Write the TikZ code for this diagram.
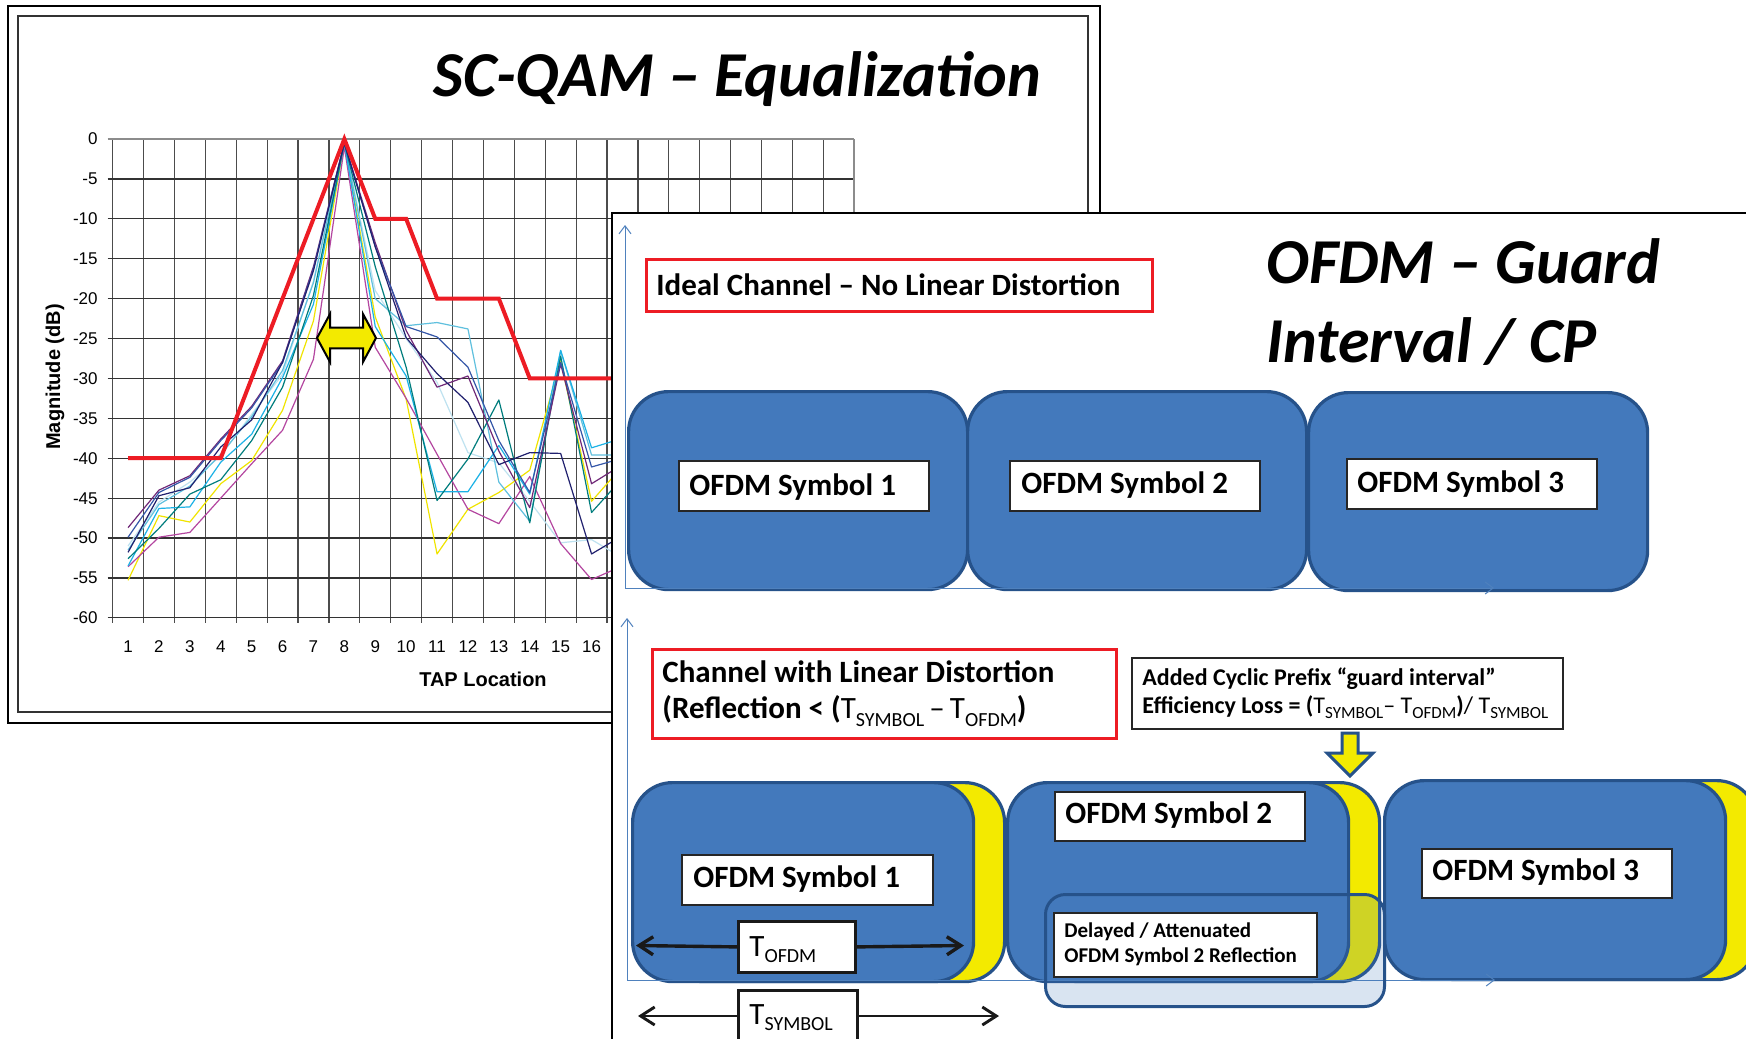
\documentclass[tikz,border=0pt]{standalone}
\usepackage{fontspec}
\setmainfont{Carlito}
\newfontfamily\chartfont{Liberation Sans}
\usetikzlibrary{arrows.meta}

\definecolor{boxblue}{RGB}{67,121,188}
\definecolor{boxedge}{RGB}{38,82,138}
\definecolor{cpyellow}{RGB}{243,234,0}
\definecolor{redline}{RGB}{237,28,36}
\definecolor{axisblue}{RGB}{79,129,189}
\definecolor{navyc}{RGB}{32,32,110}
\definecolor{bluec}{RGB}{52,86,168}
\definecolor{purplec}{RGB}{112,40,120}
\definecolor{tealc}{RGB}{0,125,125}
\definecolor{cyanc}{RGB}{28,178,230}
\definecolor{lcyanc}{RGB}{95,192,222}
\definecolor{vlightc}{RGB}{190,226,240}
\definecolor{yellc}{RGB}{240,228,0}
\definecolor{magc}{RGB}{180,70,160}

\newcommand{\Tsub}[3]{{\mdseries T}\raisebox{-#3}{\fontsize{#2}{#2}\selectfont\mdseries #1}}

\begin{document}
\begin{tikzpicture}[x=0.5pt, y=-0.5pt,
  symbox/.style={draw=boxedge, fill=boxblue, line width=1.6pt, rounded corners=20pt, anchor=north west, inner sep=0pt, minimum width=169.5pt, minimum height=99pt},
  bsymbox/.style={symbox, minimum width=170.5pt, minimum height=99.5pt},
  cpbox/.style={bsymbox, fill=cpyellow},
  lblbox/.style={draw=black!85, fill=white, line width=0.9pt, anchor=north west, inner sep=0pt, minimum width=125pt, minimum height=25pt},
  redbox/.style={draw=redline, fill=white, line width=1.6pt, anchor=north west, inner sep=0pt},
  plainbox/.style={draw=black!85, fill=white, line width=0.9pt, anchor=north west, inner sep=0pt},
  tbox/.style={draw=black!90, fill=white, line width=1.4pt, anchor=north west, inner sep=0pt},
  txt/.style={anchor=base west, inner sep=0pt},
  bigtitle/.style={txt, font=\fontsize{32}{36}\selectfont\bfseries\itshape},
  symtxt/.style={txt, font=\fontsize{15.5}{18}\selectfont\bfseries},
  gridv/.style={draw=black!70, line width=0.6pt},
  gridh/.style={draw=black!80, line width=0.6pt},
  ylab/.style={anchor=base east, inner sep=0pt, font=\chartfont\fontsize{8.5}{10}\selectfont},
  xlab/.style={anchor=base, inner sep=0pt, font=\chartfont\fontsize{8.5}{10}\selectfont},
  series/.style={line width=0.6pt, line join=round},
  axisl/.style={draw=axisblue, line width=0.5pt, -{Straight Barb[length=4pt,width=6pt]}},
  tarrow/.style={draw=black!90, line width=1.7pt, -{Straight Barb[length=7pt,width=9pt]}}
]
\useasboundingbox (0,0) rectangle (1746,1039);
\fill[white] (0,0) rectangle (1746,1039);
\clip (0,0) rectangle (1746,1039);

% ---------------- chart panel ----------------
\draw[line width=1.25pt] (8,6) rectangle (1100,723);
\draw[line width=0.75pt, black!80] (18,16) rectangle (1088,712);
\node[bigtitle] (t1) at (433,96) {SC-QAM – Equalization};

\begin{scope}[shift={(97.15,139)}, x=15.45pt, y=3.99pt]
  \foreach \i in {0.5,1.5,...,24.5} \draw[gridv] (\i,0) -- (\i,-60.65);
  \foreach \d in {-5,-10,...,-60} \draw[gridh] (0.34,\d) -- (24.5,\d);
  \draw[draw=black!45, line width=1pt] (0.34,0) -- (24.5,0);
  \draw[draw=black!45, line width=0.8pt] (24.5,0) -- (24.5,-60);
  \foreach \d [count=\k] in {0,-5,...,-60} \node[ylab] (yl\k) at (0.0275,\d-0.75) {\d};
  \foreach \i in {1,...,16} \node[xlab] (xl\i) at (\i,-64.29) {\i};
  % data
  \draw[series, vlightc] plot coordinates {(1,-51) (2,-45.5) (3,-43) (4,-39.7) (5,-34.5) (6,-29.5) (7,-17.8) (8,-0.5) (9,-19) (10,-25) (11,-30.5) (12,-39.3) (13,-40.6) (14,-45.4) (15,-50.6) (16,-50.2) (17,-52.5)};
  \draw[series, yellc] plot coordinates {(1,-55.3) (2,-47.2) (3,-48) (4,-43.2) (5,-40.3) (6,-34) (7,-22.8) (8,-0.5) (9,-22.3) (10,-32.6) (11,-52) (12,-46.4) (13,-44.3) (14,-41.5) (15,-27.8) (16,-45.4) (17,-41)};
  \draw[series, magc] plot coordinates {(1,-53.6) (2,-49.9) (3,-49.3) (4,-45) (5,-40.7) (6,-36.5) (7,-27.6) (8,-1) (9,-26.1) (10,-32.5) (11,-39.5) (12,-46.4) (13,-48.2) (14,-42.3) (15,-50.7) (16,-55.2) (17,-53.5)};
  \draw[series, lcyanc] plot coordinates {(1,-51.5) (2,-45.8) (3,-43.5) (4,-39.5) (5,-34.8) (6,-29) (7,-18) (8,-0.5) (9,-20) (10,-23.4) (11,-23) (12,-23.8) (13,-43) (14,-47.9) (15,-26.5) (16,-39.6) (17,-39.6)};
  \draw[series, cyanc] plot coordinates {(1,-53.5) (2,-46.3) (3,-46.1) (4,-40.5) (5,-37) (6,-29.9) (7,-20.7) (8,-0.5) (9,-23.5) (10,-29.7) (11,-44.2) (12,-44.2) (13,-38.4) (14,-44.5) (15,-26.5) (16,-38.7) (17,-37.5)};
  \draw[series, tealc] plot coordinates {(1,-52.6) (2,-48.8) (3,-44.5) (4,-42.7) (5,-37.8) (6,-31.1) (7,-19.6) (8,-0.5) (9,-16) (10,-28.6) (11,-45.3) (12,-40.1) (13,-32.7) (14,-48.1) (15,-27.2) (16,-46.8) (17,-42.5)};
  \draw[series, purplec] plot coordinates {(1,-48.7) (2,-44) (3,-42.2) (4,-37.6) (5,-33.5) (6,-27.8) (7,-16) (8,-0.5) (9,-13) (10,-24) (11,-31.1) (12,-29.7) (13,-39.1) (14,-46.2) (15,-28.2) (16,-43.2) (17,-40.8)};
  \draw[series, bluec] plot coordinates {(1,-49.9) (2,-44.3) (3,-42.4) (4,-37.8) (5,-33.7) (6,-28) (7,-16.3) (8,-0.5) (9,-13.5) (10,-23.5) (11,-24.8) (12,-28.6) (13,-37.8) (14,-44.3) (15,-28) (16,-41.1) (17,-40)};
  \draw[series, navyc] plot coordinates {(1,-51.8) (2,-44.7) (3,-43.7) (4,-38.6) (5,-35.2) (6,-28) (7,-16.5) (8,-0.5) (9,-13.5) (10,-24.9) (11,-29.4) (12,-33) (13,-40.8) (14,-39.3) (15,-39.4) (16,-52) (17,-49.7)};
  % mask
  \draw[redline, line width=2pt, line join=miter] plot coordinates {(1,-40) (4,-40) (8,0) (9,-10) (10,-10) (11,-20) (13,-20) (14,-30) (24.5,-30)};
\end{scope}
\node[rotate=90, anchor=base, inner sep=0pt, font=\chartfont\fontsize{10}{12}\selectfont\bfseries] (ylabel) at (60,377) {Magnitude (dB)};
\node[anchor=base, inner sep=0pt, font=\chartfont\fontsize{10}{12}\selectfont\bfseries] (xlabel) at (483,686) {TAP Location};
\draw[line width=1pt, fill=cpyellow, line join=miter] (317,338) -- (330,314) -- (330,327.7) -- (363,327.7) -- (363,314) -- (376,338) -- (363,362) -- (363,348.3) -- (330,348.3) -- (330,362) -- cycle;

% ---------------- OFDM panel ----------------
\node[draw=black, fill=white, line width=1.1pt, anchor=north west, inner sep=0pt, minimum width=580pt, minimum height=420pt] (panel) at (611,212) {};
\node[bigtitle] (t2) at (1266,283) {OFDM – Guard};
\node[bigtitle] (t3) at (1266,362) {Interval / CP};

\node[redbox, minimum width=253pt, minimum height=26pt] (ideal) at (645,258) {};
\node[symtxt] (idealt) at (656,295) {Ideal Channel – No Linear Distortion};

\node[symbox] (s1) at (627,390) {};
\node[symbox] (s2) at (966,390) {};
\node[symbox] (s3) at (1307,391) {};
\node[lblbox] (l1) at (678,460) {};
\node[symtxt] (l1t) at (689,495) {OFDM Symbol 1};
\node[lblbox] (l2) at (1009,460) {};
\node[symtxt] (l2t) at (1021,493) {OFDM Symbol 2};
\node[lblbox] (l3) at (1346,458) {};
\node[symtxt] (l3t) at (1357,492) {OFDM Symbol 3};

\coordinate (a1o) at (625,588);
\coordinate (a1t) at (625,225);
\coordinate (a1r) at (1494,588);
\draw[axisl] (a1o) -- (a1t);
\draw[axisl] (a1o) -- (a1r);

% lower section
\node[redbox, minimum width=232pt, minimum height=44.5pt] (chan) at (651,648) {};
\node[symtxt] (chant1) at (662,682) {Channel with Linear Distortion};
\node[symtxt] (chant2) at (662,718) {(Reflection < (\Tsub{SYMBOL}{10pt}{4pt}{\mdseries\,–\,}\Tsub{OFDM}{10pt}{4pt})};

\node[plainbox, minimum width=215.5pt, minimum height=35.5pt] (cyc) at (1131,657) {};
\node[txt, font=\fontsize{12}{14}\selectfont\bfseries] (cyct1) at (1142,685) {Added Cyclic Prefix “guard interval”};
\node[txt, font=\fontsize{12}{14}\selectfont\bfseries] (cyct2) at (1142,713) {Efficiency Loss = (\Tsub{SYMBOL}{8.5pt}{2.5pt}{\mdseries– }\Tsub{OFDM}{8.5pt}{2.5pt}){\mdseries/ }\Tsub{SYMBOL}{8.5pt}{2.5pt}};

\node[cpbox] (y1) at (662,781) {};
\node[bsymbox] (b1) at (631,781) {};
\node[cpbox] (y2) at (1037,781) {};
\node[bsymbox] (b2) at (1006,781) {};
\node[cpbox] (y3) at (1414,779) {};
\node[bsymbox] (b3) at (1383,779) {};

\node[lblbox, minimum width=125.5pt] (bl1) at (681,854) {};
\node[symtxt] (bl1t) at (693,887) {OFDM Symbol 1};
\node[lblbox, minimum height=24.5pt] (bl2) at (1054,791) {};
\node[symtxt] (bl2t) at (1065,823) {OFDM Symbol 2};
\node[lblbox, minimum height=24.5pt] (bl3) at (1421,848) {};
\node[symtxt] (bl3t) at (1432,880) {OFDM Symbol 3};

\draw[line width=1.5pt, draw=boxedge, fill=cpyellow, line join=miter] (1342,733) -- (1358,733) -- (1358,753) -- (1373,753) -- (1350,776) -- (1327,753) -- (1342,753) -- cycle;

\coordinate (a2o) at (627,980);
\coordinate (a2t) at (627,618);
\coordinate (a2r) at (1495,980);
\draw[axisl] (a2o) -- (a2t);
\draw[axisl] (a2o) -- (a2r);

\node[draw=boxedge, line width=1.5pt, fill=boxblue, fill opacity=0.2, rounded corners=10pt, anchor=north west, inner sep=0pt, minimum width=169.5pt, minimum height=56pt] (refl) at (1044,893) {};
\node[plainbox, minimum width=131.5pt, minimum height=32pt] (dl) at (1053,912) {};
\node[txt, font=\fontsize{10.5}{12}\selectfont\bfseries] (dlt1) at (1064,937) {Delayed / Attenuated};
\node[txt, font=\fontsize{10.5}{12}\selectfont\bfseries] (dlt2) at (1064,962) {OFDM Symbol 2 Reflection};

% T arrows
\coordinate (toL) at (636,945.5);
\coordinate (toR) at (964,945.5);
\coordinate (tsL) at (638,1016);
\coordinate (tsR) at (999,1016);
\node[tbox, minimum width=58.5pt, minimum height=25.5pt] (tofdm) at (737,920) {};
\node[tbox, minimum width=59.5pt, minimum height=32pt] (tsym) at (737,989) {};
\draw[tarrow] (tofdm.west) -- (toL);
\draw[tarrow] (tofdm.east) -- (toR);
\draw[tarrow, line width=1.45pt] (tsym.west |- tsL) -- (tsL);
\draw[tarrow, line width=1.45pt] (tsym.east |- tsR) -- (tsR);
\node[txt, font=\fontsize{15.5}{18}\selectfont] (tofdmt) at (749,956.5) {\Tsub{OFDM}{10pt}{3pt}};
\node[txt, font=\fontsize{15.5}{18}\selectfont] (tsymt) at (749,1024) {\Tsub{SYMBOL}{10pt}{3pt}};
\end{tikzpicture}
\end{document}
